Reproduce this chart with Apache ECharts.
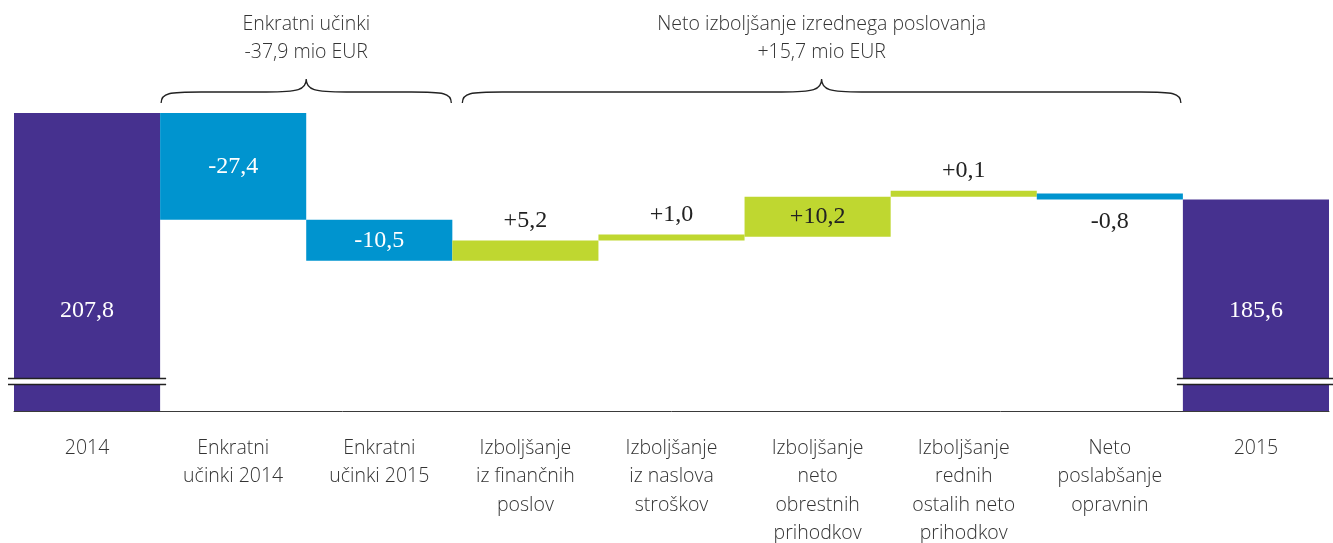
<!DOCTYPE html>
<html>
<head>
<meta charset="utf-8">
<script src="https://cdn.jsdelivr.net/npm/echarts@6/dist/echarts.min.js"></script>
<style>
html,body{margin:0;padding:0;background:#fff;}
#chart{width:1333px;height:543px;}
</style>
</head>
<body>
<div id="chart"></div>
<script>
// ---- data ----
const categories = [
  '2014',
  'Enkratni\nučinki 2014',
  'Enkratni\nučinki 2015',
  'Izboljšanje\niz finančnih\nposlov',
  'Izboljšanje\niz naslova\nstroškov',
  'Izboljšanje\nneto\nobrestnih\nprihodkov',
  'Izboljšanje\nrednih\nostalih neto\nprihodkov',
  'Neto\nposlabšanje\nopravnin',
  '2015'
];
const startValue = 207.8;
const deltas = [-27.4, -10.5, 5.2, 1.0, 10.2, 0.1, -0.8];
const endValue = 185.6;
const valueLabels = ['207,8', '-27,4', '-10,5', '+5,2', '+1,0', '+10,2', '+0,1', '-0,8', '185,6'];
const groupRanges = [[1, 2], [3, 7]];
const groupTitles = ['Enkratni učinki', 'Neto izboljšanje izrednega poslovanja'];
const groupTotals = ['-37,9 mio EUR', '+15,7 mio EUR'];
const brokenBars = [0, 8];

// ---- style ----
const C_TOTAL = '#46318f', C_NEG = '#0094cf', C_POS = '#bfd730';
const Y_MIN = 131.4, Y_MAX = 207.8;
const SANS = '"Open Sans", "Noto Sans", sans-serif';
const SERIF = '"Liberation Serif", "DejaVu Serif", serif';
const braceInsets = [[1, -1], [10, -2]];

// build waterfall stacks
const base = [0], vis = [startValue], kinds = ['total'];
let running = startValue;
deltas.forEach(d => {
  if (d < 0) { base.push(running + d); vis.push(-d); kinds.push('neg'); }
  else { base.push(running); vis.push(d); kinds.push('pos'); }
  running += d;
});
base.push(0); vis.push(endValue); kinds.push('total');

const labelCfg = [
  {position: 'insideBottom', distance: 88, color: '#fff'},
  {position: 'inside', color: '#fff'},
  {position: 'inside', color: '#fff'},
  {position: 'top', distance: 8, color: '#222'},
  {position: 'top', distance: 8, color: '#222'},
  {position: 'inside', color: '#222'},
  {position: 'top', distance: 8, color: '#222'},
  {position: 'bottom', distance: 10, color: '#222'},
  {position: 'insideBottom', distance: 88, color: '#fff'}
];

const visData = vis.map((v, i) => ({
  value: v,
  itemStyle: {color: kinds[i] === 'total' ? C_TOTAL : (kinds[i] === 'neg' ? C_NEG : C_POS)},
  label: Object.assign({show: true, formatter: valueLabels[i], fontFamily: SERIF, fontSize: 24}, labelCfg[i])
}));

const chart = echarts.init(document.getElementById('chart'), null, {renderer: 'canvas'});
chart.setOption({
  animation: false,
  backgroundColor: '#fff',
  grid: {left: 14, right: 4, top: 113, bottom: 132, containLabel: false, outerBoundsMode: 'none'},
  xAxis: {
    type: 'category',
    data: categories,
    axisLine: {show: true, lineStyle: {color: '#3a3a3a', width: 1}},
    axisTick: {show: false},
    axisLabel: {
      interval: 0, margin: 23, color: '#333', fontFamily: SANS, fontSize: 19.5,
      fontWeight: 300, lineHeight: 28.5, verticalAlign: 'top'
    }
  },
  yAxis: {type: 'value', min: Y_MIN, max: Y_MAX, show: false, splitLine: {show: false}},
  series: [
    {
      type: 'bar', stack: 'w', data: base, barCategoryGap: 0,
      itemStyle: {color: 'transparent'}, silent: true
    },
    {
      type: 'bar', stack: 'w', data: visData, barCategoryGap: 0, barMinHeight: 6
    },
    {
      type: 'custom', clip: false, silent: true, z: 10,
      data: brokenBars.map(i => [i, Y_MIN]),
      renderItem: function (params, api) {
        const p = api.coord([api.value(0), Y_MIN]);
        const w = api.size([1, 0])[0];
        const y = p[1] - 29.5;
        const x0 = p[0] - w / 2 - 6, x1 = p[0] + w / 2 + 6;
        return {
          type: 'group',
          children: [
            {type: 'rect', shape: {x: x0, y: y - 3, width: x1 - x0, height: 6}, style: {fill: '#fff'}},
            {type: 'line', shape: {x1: x0, y1: y - 3, x2: x1, y2: y - 3}, style: {stroke: '#222', lineWidth: 1.5}},
            {type: 'line', shape: {x1: x0, y1: y + 3, x2: x1, y2: y + 3}, style: {stroke: '#222', lineWidth: 1.5}}
          ]
        };
      }
    },
    {
      type: 'custom', clip: false, silent: true, z: 10,
      data: groupRanges.map(r => [r[0], Y_MAX]),
      renderItem: function (params, api) {
        const i = params.dataIndex;
        const r = groupRanges[i];
        const w = api.size([1, 0])[0];
        const xa = api.coord([r[0], Y_MAX])[0] - w / 2 + braceInsets[i][0];
        const xb = api.coord([r[1], Y_MAX])[0] + w / 2 + braceInsets[i][1];
        const xc = (xa + xb) / 2;
        const yEnd = 103, yFlat = 92, yTip = 79;
        const path = 'M' + xa + ',' + yEnd +
          ' C' + xa + ',' + (yFlat + 1) + ' ' + (xa + 8) + ',' + yFlat + ' ' + (xa + 40) + ',' + yFlat +
          ' L' + (xc - 40) + ',' + yFlat +
          ' C' + (xc - 8) + ',' + yFlat + ' ' + xc + ',' + (yFlat - 2) + ' ' + xc + ',' + yTip +
          ' C' + xc + ',' + (yFlat - 2) + ' ' + (xc + 8) + ',' + yFlat + ' ' + (xc + 40) + ',' + yFlat +
          ' L' + (xb - 40) + ',' + yFlat +
          ' C' + (xb - 8) + ',' + yFlat + ' ' + xb + ',' + (yFlat + 1) + ' ' + xb + ',' + yEnd;
        return {
          type: 'group',
          children: [
            {type: 'path', shape: {pathData: path}, style: {stroke: '#222', lineWidth: 1.3, fill: null}},
            {type: 'text', style: {text: groupTitles[i], x: xc, y: 24, align: 'center', verticalAlign: 'middle',
              fontSize: 19.5, fontFamily: SANS, fontWeight: 300, fill: '#333'}},
            {type: 'text', style: {text: groupTotals[i], x: xc, y: 52, align: 'center', verticalAlign: 'middle',
              fontSize: 19.5, fontFamily: SANS, fontWeight: 300, fill: '#333'}}
          ]
        };
      }
    }
  ]
});
</script>
</body>
</html>
